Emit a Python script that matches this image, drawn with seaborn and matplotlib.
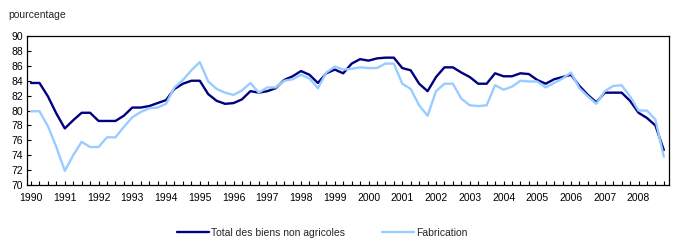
import numpy as np
import pandas as pd
import matplotlib
matplotlib.use("Agg")
import matplotlib.pyplot as plt
import seaborn as sns

# quarterly values, 1990 Q1 to 2008 Q4
years = list(range(1990, 2009))
total_biens = [83.7, 83.7, 81.9, 79.6, 77.6, 78.7, 79.7, 79.7, 78.6, 78.6,
               78.6, 79.3, 80.4, 80.4, 80.6, 81.0, 81.4, 82.9, 83.6, 84.0,
               84.0, 82.2, 81.3, 80.9, 81.0, 81.5, 82.6, 82.4, 82.6, 83.0,
               84.1, 84.6, 85.3, 84.8, 83.7, 85.0, 85.5, 85.0, 86.3, 86.9,
               86.7, 87.0, 87.1, 87.1, 85.7, 85.4, 83.6, 82.6, 84.5, 85.8,
               85.8, 85.1, 84.5, 83.6, 83.6, 85.0, 84.6, 84.6, 85.0, 84.9,
               84.1, 83.6, 84.2, 84.5, 84.8, 83.3, 82.1, 81.1, 82.4, 82.4,
               82.4, 81.3, 79.7, 79.0, 78.0, 74.7]
fabrication = [79.9, 79.9, 77.9, 75.1, 71.9, 74.0, 75.8, 75.1, 75.1, 76.4,
               76.4, 77.8, 79.1, 79.8, 80.3, 80.4, 80.9, 83.1, 84.1, 85.4,
               86.5, 83.9, 82.9, 82.4, 82.1, 82.7, 83.7, 82.4, 83.1, 83.1,
               84.0, 84.2, 84.8, 84.3, 83.0, 85.1, 85.9, 85.5, 85.6, 85.8,
               85.7, 85.7, 86.3, 86.3, 83.6, 82.9, 80.7, 79.3, 82.6, 83.6,
               83.6, 81.6, 80.7, 80.6, 80.7, 83.4, 82.8, 83.2, 84.0, 83.9,
               83.9, 83.1, 83.7, 84.3, 85.1, 83.0, 81.9, 80.9, 82.6, 83.3,
               83.4, 81.9, 80.0, 80.0, 78.8, 73.8]
series_names = ["Total des biens non agricoles", "Fabrication"]
colors = ["#000080", "#99ccff"]

n = len(total_biens)
df = pd.DataFrame({
    "t": list(range(n)) * 2,
    "val": total_biens + fabrication,
    "serie": [series_names[0]] * n + [series_names[1]] * n,
})

sns.set_style("ticks")
plt.rcParams['font.family'] = ['Liberation Sans', 'DejaVu Sans']

fig = plt.figure(figsize=(6.77, 2.47), dpi=100)
ax = fig.add_axes([0.040, 0.251, 0.948, 0.603])

sns.lineplot(data=df, x="t", y="val", hue="serie", hue_order=series_names,
             palette=colors, linewidth=1.7, ax=ax, legend=False)

ax.set_xlim(-0.47, 75.6)
ax.set_ylim(70, 90)
ax.set_yticks(np.arange(70, 91, 2))
ax.set_xticks(range(n))
ax.set_xticklabels([str(years[i // 4]) if i % 4 == 0 else "" for i in range(n)])
ax.tick_params(axis="both", direction="in", length=3, width=0.8,
               labelsize=7.5, colors="black", pad=3)
ax.tick_params(axis="x", pad=6)
ax.set_xlabel("")
ax.set_ylabel("")
for sp in ax.spines.values():
    sp.set_visible(True)
    sp.set_linewidth(0.9)
    sp.set_color("black")

fig.text(0.012, 0.94, "pourcentage", fontsize=7.5, ha="left", va="center")

handles = [plt.Line2D([], [], color=c, linewidth=1.7) for c in colors]
fig.legend(handles, series_names, loc="center", bbox_to_anchor=(0.476, 0.057),
           ncol=2, frameon=False, fontsize=7.5, handlelength=3.0,
           handletextpad=0.2, columnspacing=3.6)

fig.savefig("out.png", dpi=100)
